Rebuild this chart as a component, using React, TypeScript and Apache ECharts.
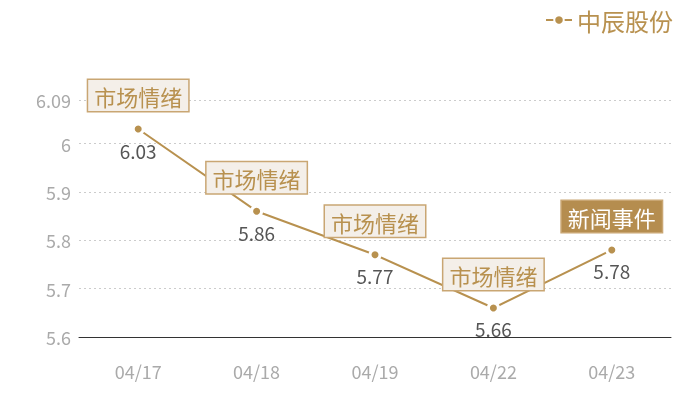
import { useEffect, useRef } from "react";
import * as echarts from "echarts";

const DATES = ["04/17", "04/18", "04/19", "04/22", "04/23"];
const PRICES = [6.03, 5.86, 5.77, 5.66, 5.78];
const EVENTS = ["市场情绪", "市场情绪", "市场情绪", "市场情绪", "新闻事件"];
const SERIES_NAME = "中辰股份";

const GOLD = "#b8914f";
const FONT = "'Noto Sans CJK SC', 'Noto Sans', sans-serif";

export default function App() {
  const ref = useRef<HTMLDivElement | null>(null);

  useEffect(() => {
    if (!ref.current) return;
    const chart = echarts.init(ref.current, undefined, { renderer: "svg" });

    const eventData = PRICES.map((value, i) => {
      const isNews = EVENTS[i] === "新闻事件";
      return {
        value,
        label: {
          show: true,
          position: "top",
          distance: 13,
          formatter: EVENTS[i],
          fontSize: 22,
          fontFamily: FONT,
          color: isNews ? "#ffffff" : GOLD,
          backgroundColor: isNews ? "#b58d4f" : "#f4efe9",
          borderColor: "#c9a673",
          borderWidth: 1.5,
          padding: [5, 6, 4, 6],
        },
      };
    });

    chart.setOption({
      animation: false,
      textStyle: { fontFamily: FONT },
      legend: {
        right: 22,
        top: 3,
        itemWidth: 26,
        itemHeight: 12,
        itemGap: 6,
        data: [SERIES_NAME],
        textStyle: { color: GOLD, fontSize: 24, fontFamily: FONT },
      },
      grid: { left: 79, right: 29, top: 100, bottom: 63 },
      xAxis: {
        type: "category",
        data: DATES,
        boundaryGap: true,
        axisLine: { lineStyle: { color: "#333333", width: 1 } },
        axisTick: { show: false },
        axisLabel: { color: "#aaaaaa", fontSize: 18, margin: 25, fontFamily: FONT },
      },
      yAxis: {
        type: "value",
        min: 5.6,
        max: 6.09,
        interval: 0.1,
        axisLine: { show: false },
        axisTick: { show: false },
        axisLabel: { color: "#aaaaaa", fontSize: 18, margin: 8, fontFamily: FONT },
        splitLine: { lineStyle: { color: "#cccccc", type: [2, 3], width: 1 } },
      },
      series: [
        {
          name: SERIES_NAME,
          type: "line",
          data: PRICES,
          symbol: "circle",
          symbolSize: 10,
          lineStyle: { color: GOLD, width: 2 },
          itemStyle: { color: GOLD, borderColor: "#ffffff", borderWidth: 3 },
          label: {
            show: true,
            position: "bottom",
            distance: 5,
            color: "#555555",
            fontSize: 19,
            fontFamily: FONT,
          },
          z: 3,
        },
        {
          name: "events",
          type: "line",
          data: eventData,
          symbol: "circle",
          symbolSize: 10,
          showSymbol: true,
          itemStyle: { color: "transparent", borderWidth: 0 },
          lineStyle: { width: 0, color: "transparent" },
          silent: true,
          z: 4,
        },
      ],
    });

    return () => chart.dispose();
  }, []);

  return (
    <div
      ref={ref}
      style={{ position: "fixed", left: 0, top: 0, width: 700, height: 400 }}
    />
  );
}
